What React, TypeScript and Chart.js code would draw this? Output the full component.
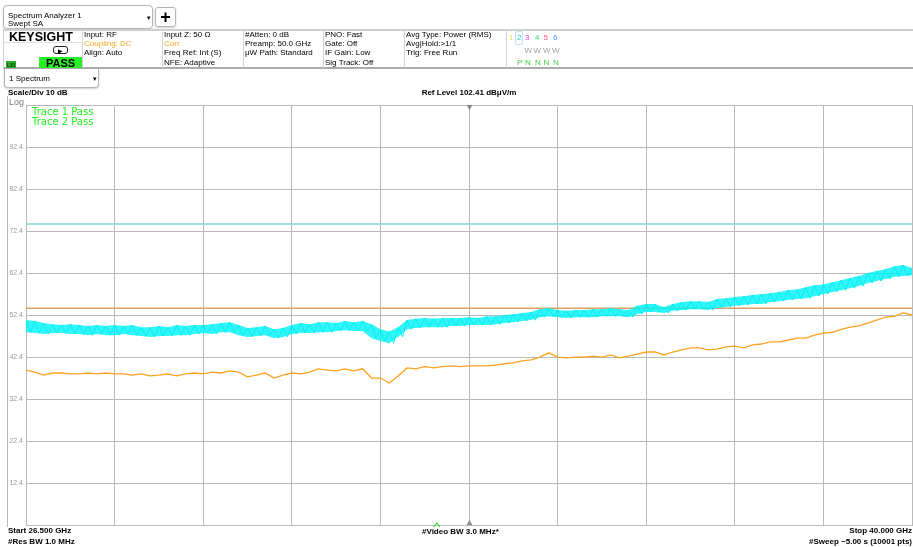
import React, { useEffect, useRef } from 'react';
import { Chart, registerables } from 'chart.js';
Chart.register(...registerables);

// ---------- data ----------
const START_GHZ = 26.5;
const STOP_GHZ = 40.0;
const CENTER_GHZ = 33.25;
const GREEN_MARK_GHZ = 32.76;
const REF_LEVEL = 102.41;
const BOTTOM_LEVEL = 2.41;

const X_GRID = [26.5, 27.85, 29.2, 30.55, 31.9, 33.25, 34.6, 35.95, 37.3, 38.65, 40.0];
const Y_GRID = [2.41, 12.41, 22.41, 32.41, 42.41, 52.41, 62.41, 72.41, 82.41, 92.41, 102.41];
const Y_LABELS = ['', '12.4', '22.4', '32.4', '42.4', '52.4', '62.4', '72.4', '82.4', '92.4', ''];

const LIMIT_1 = 74.1; // trace 1 limit line
const LIMIT_2 = 54.0; // trace 2 limit line

const FREQ_GHZ = [
  26.5, 26.635, 26.77, 26.905, 27.04, 27.175, 27.31, 27.445, 27.58, 27.715,
  27.85, 27.985, 28.12, 28.255, 28.39, 28.525, 28.66, 28.795, 28.93, 29.065,
  29.2, 29.335, 29.47, 29.605, 29.74, 29.875, 30.01, 30.145, 30.28, 30.415,
  30.55, 30.685, 30.82, 30.955, 31.09, 31.225, 31.36, 31.495, 31.63, 31.765,
  31.9, 32.035, 32.17, 32.305, 32.44, 32.575, 32.71, 32.845, 32.98, 33.115,
  33.25, 33.385, 33.52, 33.655, 33.79, 33.925, 34.06, 34.195, 34.33, 34.465,
  34.6, 34.735, 34.87, 35.005, 35.14, 35.275, 35.41, 35.545, 35.68, 35.815,
  35.95, 36.085, 36.22, 36.355, 36.49, 36.625, 36.76, 36.895, 37.03, 37.165,
  37.3, 37.435, 37.57, 37.705, 37.84, 37.975, 38.11, 38.245, 38.38, 38.515,
  38.65, 38.785, 38.92, 39.055, 39.19, 39.325, 39.46, 39.595, 39.73, 39.865,
  40.0,
];

// Trace 1 (cyan) noise envelope: upper and lower edge, dBuV/m
const CYAN_HIGH = [
  51.2, 51.0, 50.5, 50.2, 50.0, 50.2, 50.0, 49.8, 50.0, 49.8,
  50.0, 49.8, 50.0, 49.5, 49.5, 49.8, 49.5, 50.0, 49.8, 50.0,
  50.0, 50.2, 50.5, 50.7, 50.0, 49.3, 49.5, 49.8, 49.0, 49.3,
  50.0, 50.5, 50.2, 50.7, 50.7, 50.5, 51.0, 50.7, 51.0, 50.2,
  49.0, 48.5, 49.5, 51.2, 51.5, 51.7, 51.5, 51.7, 51.7, 51.7,
  51.9, 51.7, 52.1, 52.1, 52.4, 52.6, 52.9, 53.1, 53.8, 54.1,
  53.6, 53.4, 53.6, 53.6, 53.8, 53.8, 54.1, 53.8, 53.6, 54.6,
  55.0, 55.0, 54.3, 55.0, 55.5, 55.7, 55.7, 55.5, 56.2, 56.4,
  56.7, 56.9, 57.2, 57.4, 57.6, 57.9, 58.3, 58.5, 59.0, 59.5,
  59.7, 60.2, 60.7, 61.2, 61.7, 62.4, 62.9, 63.3, 64.0, 64.3,
  63.6,
];
const CYAN_LOW = [
  48.3, 48.1, 47.9, 48.1, 48.1, 47.9, 47.9, 47.6, 47.9, 47.6,
  47.6, 47.9, 47.6, 47.4, 47.2, 47.4, 47.4, 47.6, 47.6, 47.9,
  48.1, 47.9, 48.3, 48.3, 47.6, 47.2, 47.4, 47.6, 46.9, 47.2,
  47.9, 48.1, 48.1, 48.3, 48.3, 48.6, 48.8, 48.6, 48.6, 46.9,
  46.2, 45.7, 47.2, 49.0, 49.3, 49.5, 49.5, 49.5, 49.8, 49.8,
  50.0, 50.0, 50.0, 50.2, 50.5, 50.7, 51.0, 51.2, 51.9, 52.1,
  51.9, 51.7, 51.9, 51.9, 51.9, 52.1, 52.1, 52.1, 51.9, 52.6,
  53.1, 53.1, 52.9, 53.4, 53.6, 53.8, 53.8, 53.6, 54.1, 54.3,
  54.6, 54.8, 55.0, 55.0, 55.5, 55.7, 56.0, 56.2, 56.4, 56.9,
  57.4, 57.9, 58.3, 58.8, 59.3, 60.0, 60.5, 61.0, 61.5, 61.7,
  61.9,
];

// Trace 2 (orange)
const ORANGE = [
  39.3, 38.8, 38.1, 38.6, 38.6, 38.4, 38.4, 38.6, 38.4, 38.6,
  38.4, 38.4, 38.1, 38.4, 37.9, 38.1, 38.4, 37.9, 38.4, 38.6,
  38.4, 38.8, 38.6, 39.1, 38.8, 37.7, 38.1, 38.6, 37.4, 38.1,
  38.6, 38.4, 38.8, 39.6, 39.3, 39.1, 39.6, 39.1, 39.6, 37.4,
  37.4, 36.2, 37.9, 39.8, 39.6, 40.1, 39.8, 40.1, 40.3, 40.1,
  40.3, 40.3, 40.3, 40.5, 40.8, 41.0, 41.5, 41.7, 42.4, 43.4,
  42.4, 42.2, 42.4, 42.4, 42.6, 42.4, 42.9, 42.2, 42.6, 43.1,
  43.6, 43.6, 42.9, 43.6, 44.1, 44.6, 44.6, 44.1, 44.3, 44.8,
  45.0, 44.6, 45.3, 45.5, 46.0, 46.0, 46.4, 46.9, 46.9, 47.6,
  48.1, 48.3, 49.0, 49.5, 49.8, 50.5, 51.2, 51.9, 52.1, 52.9,
  52.4,
];

// ---------- styles ----------
const FONT = '"Liberation Sans", Arial, sans-serif';
const CYAN = '#00f0f4';
const CYAN_FILL = 'rgba(0, 242, 246, 0.8)';
const ORANGE_C = '#ffa21f';
const CYAN_LIMIT = '#8ad6d6';
const ORANGE_LIMIT = '#dca064';
const GRID = '#b9b9b9';

const markerPlugin = {
  id: 'saMarkers',
  afterDraw(chart: any) {
    const { ctx, chartArea, scales } = chart;
    const cx = Math.round(scales.x.getPixelForValue(CENTER_GHZ)) + 0.5;
    ctx.save();
    ctx.fillStyle = '#8a8a8a';
    ctx.beginPath();
    ctx.moveTo(cx - 3, chartArea.top);
    ctx.lineTo(cx + 3, chartArea.top);
    ctx.lineTo(cx, chartArea.top + 5);
    ctx.closePath();
    ctx.fill();
    ctx.beginPath();
    ctx.moveTo(cx - 3, chartArea.bottom);
    ctx.lineTo(cx + 3, chartArea.bottom);
    ctx.lineTo(cx, chartArea.bottom - 5);
    ctx.closePath();
    ctx.fill();
    const gx = scales.x.getPixelForValue(GREEN_MARK_GHZ);
    ctx.strokeStyle = '#3ddc3d';
    ctx.lineWidth = 1.2;
    ctx.beginPath();
    ctx.moveTo(gx - 3, chartArea.bottom + 2);
    ctx.lineTo(gx, chartArea.bottom - 2);
    ctx.lineTo(gx + 3, chartArea.bottom + 2);
    ctx.stroke();
    ctx.restore();
  },
};

function T(props: { x: number; y: number; size?: number; color?: string; bold?: boolean; right?: boolean; center?: boolean; family?: string; children: any }) {
  const size = props.size ?? 8;
  const style: any = {
    position: 'absolute',
    top: props.y - size / 2 + 0.8,
    fontSize: size,
    lineHeight: size + 'px',
    whiteSpace: 'nowrap',
    color: props.color ?? '#000',
    fontWeight: props.bold ? 'bold' : 'normal',
    fontFamily: props.family ?? FONT,
  };
  if (props.right) {
    style.right = 913 - props.x;
  } else if (props.center) {
    style.left = props.x;
    style.transform = 'translateX(-50%)';
  } else {
    style.left = props.x;
  }
  return <span style={style}>{props.children}</span>;
}

function Box(props: { x: number; y: number; w: number; h: number; style?: any; children?: any }) {
  return (
    <div style={{ position: 'absolute', left: props.x, top: props.y, width: props.w, height: props.h, boxSizing: 'border-box', ...props.style }}>
      {props.children}
    </div>
  );
}

export default function App() {
  const ref = useRef<HTMLCanvasElement>(null);

  useEffect(() => {
    if (!ref.current) return;
    const pts = (arr: number[]) => FREQ_GHZ.map((f, i) => ({ x: f, y: arr[i] }));
    // trace 1 drawn as its noise: alternating between the upper and lower envelope readings
    const noisy: { x: number; y: number }[] = [];
    FREQ_GHZ.forEach((f, i) => {
      noisy.push({ x: f, y: CYAN_HIGH[i] });
      if (i < FREQ_GHZ.length - 1) noisy.push({ x: (f + FREQ_GHZ[i + 1]) / 2, y: CYAN_LOW[i] });
    });
    const chart = new Chart(ref.current, {
      type: 'line',
      data: {
        datasets: [
          {
            label: 'Trace 1',
            data: noisy,
            borderColor: CYAN,
            borderWidth: 1,
            pointRadius: 0,
            fill: false,
            order: 0,
          },
          {
            label: 'Trace 1 high',
            data: pts(CYAN_HIGH),
            borderColor: 'rgba(0,0,0,0)',
            backgroundColor: CYAN_FILL,
            borderWidth: 0,
            pointRadius: 0,
            fill: '+1',
            order: 1,
          },
          {
            label: 'Trace 1 low',
            data: pts(CYAN_LOW),
            borderColor: 'rgba(0,0,0,0)',
            borderWidth: 0,
            pointRadius: 0,
            fill: false,
            order: 1,
          },
          {
            label: 'Trace 2',
            data: pts(ORANGE),
            borderColor: ORANGE_C,
            borderWidth: 1.3,
            pointRadius: 0,
            fill: false,
            order: 2,
          },
          {
            label: 'Limit 1',
            data: [{ x: START_GHZ, y: LIMIT_1 }, { x: STOP_GHZ, y: LIMIT_1 }],
            borderColor: CYAN_LIMIT,
            borderWidth: 1.5,
            pointRadius: 0,
            fill: false,
            order: 3,
          },
          {
            label: 'Limit 2',
            data: [{ x: START_GHZ, y: LIMIT_2 }, { x: STOP_GHZ, y: LIMIT_2 }],
            borderColor: ORANGE_LIMIT,
            borderWidth: 1.5,
            pointRadius: 0,
            fill: false,
            order: 3,
          },
        ],
      },
      options: {
        animation: false,
        responsive: false,
        maintainAspectRatio: false,
        layout: { padding: { left: 0, top: 105, right: 1, bottom: 22 } },
        plugins: { legend: { display: false }, tooltip: { enabled: false } },
        scales: {
          x: {
            type: 'linear',
            min: START_GHZ,
            max: STOP_GHZ,
            afterBuildTicks: (s: any) => {
              s.ticks = X_GRID.map((v) => ({ value: v }));
            },
            afterFit: (s: any) => {
              s.height = 0;
            },
            ticks: { display: false },
            grid: { color: GRID, lineWidth: 1, drawTicks: false },
            border: { color: GRID, width: 1 },
          },
          y: {
            type: 'linear',
            min: BOTTOM_LEVEL,
            max: REF_LEVEL,
            afterBuildTicks: (s: any) => {
              s.ticks = Y_GRID.map((v) => ({ value: v }));
            },
            afterFit: (s: any) => {
              s.width = 26;
            },
            ticks: {
              padding: 3,
              color: '#9a9a9a',
              font: { family: FONT, size: 7 },
              callback: (_v: any, i: number) => Y_LABELS[i],
            },
            grid: { color: GRID, lineWidth: 1, drawTicks: false },
            border: { color: GRID, width: 1 },
          },
        },
      },
      plugins: [markerPlugin],
    } as any);
    return () => chart.destroy();
  }, []);

  return (
    <div style={{ position: 'fixed', left: 0, top: 0, width: 913, height: 547, background: '#fff', overflow: 'hidden', fontFamily: FONT }}>
      <canvas ref={ref} width={913} height={547} style={{ position: 'absolute', left: 0, top: 0, width: 913, height: 547 }} />

      {/* Title box */}
      <Box x={3} y={5} w={150} h={24} style={{ border: '1px solid #b4b4b4', borderRadius: 4, boxShadow: '0 1px 2px rgba(0,0,0,0.2)' }} />
      <T x={8} y={15} size={8}>Spectrum Analyzer 1</T>
      <T x={8} y={23} size={8}>Swept SA</T>
      <T x={147} y={17} size={7}>▾</T>
      <Box x={155} y={7} w={21} h={20} style={{ border: '1px solid #b4b4b4', borderRadius: 3, boxShadow: '0 1px 2px rgba(0,0,0,0.2)' }} />
      <T x={165.5} y={16.5} size={18} bold center>+</T>

      {/* info bar */}
      <Box x={3} y={29} w={910} h={2} style={{ background: '#cfcfcf' }} />
      <Box x={3} y={67} w={910} h={2} style={{ background: '#ababab' }} />
      <Box x={3} y={30} w={1} h={38} style={{ background: '#d0d0d0' }} />
      {[82, 162, 243, 323, 404, 506].map((x) => (
        <Box key={x} x={x} y={30} w={1} h={38} style={{ background: '#d4d4d4' }} />
      ))}
      <Box x={4} y={42} w={78} h={1} style={{ background: '#e0e0e0' }} />
      <T x={9} y={36} size={12.5} bold>KEYSIGHT</T>
      <Box x={53} y={46} w={15} h={8} style={{ border: '1.3px solid #222', borderRadius: 3 }} />
      <T x={58} y={50} size={6}>▶</T>
      <Box x={6} y={61} w={10} h={7} style={{ background: '#2fa82f' }} />
      <T x={7} y={64.5} size={5} color="#0a3d0a" bold>LXI</T>
      <Box x={39} y={57} w={43} h={11} style={{ background: '#28f028' }} />
      <T x={60.5} y={62.5} size={11} bold center>PASS</T>

      <T x={84} y={34} size={8}>Input: RF</T>
      <T x={84} y={43.3} size={8} color="#f5a623">Coupling: DC</T>
      <T x={84} y={52.6} size={8}>Align: Auto</T>

      <T x={164} y={34} size={8}>Input Z: 50 Ω</T>
      <T x={164} y={43.3} size={8} color="#f5a623">Corr</T>
      <T x={164} y={52.6} size={8}>Freq Ref: Int (S)</T>
      <T x={164} y={61.9} size={8}>NFE: Adaptive</T>

      <T x={245} y={34} size={8}>#Atten: 0 dB</T>
      <T x={245} y={43.3} size={8}>Preamp: 50.0 GHz</T>
      <T x={245} y={52.6} size={8}>μW Path: Standard</T>

      <T x={325} y={34} size={8}>PNO: Fast</T>
      <T x={325} y={43.3} size={8}>Gate: Off</T>
      <T x={325} y={52.6} size={8}>IF Gain: Low</T>
      <T x={325} y={61.9} size={8}>Sig Track: Off</T>

      <T x={406} y={34} size={8}>Avg Type: Power (RMS)</T>
      <T x={406} y={43.3} size={8}>Avg|Hold:&gt;1/1</T>
      <T x={406} y={52.6} size={8}>Trig: Free Run</T>

      <Box x={515} y={31} w={8} h={14} style={{ border: '1px solid #bfe4ee', borderRadius: 2 }} />
      <T x={509} y={37.5} size={8} color="#e6e64a">1</T>
      <T x={517} y={37.5} size={8} color="#1ec8e6">2</T>
      <T x={525} y={37.5} size={8} color="#ee44ee">3</T>
      <T x={535} y={37.5} size={8} color="#3fd877">4</T>
      <T x={543.5} y={37.5} size={8} color="#ff5577">5</T>
      <T x={553} y={37.5} size={8} color="#4a96ff">6</T>
      {[524.5, 533.5, 543, 552].map((x) => (
        <T key={'w' + x} x={x} y={50} size={8} color="#a0a0a0">W</T>
      ))}
      <T x={517} y={62} size={8} color="#44c844">P</T>
      {[525, 535, 543.5, 553].map((x) => (
        <T key={'n' + x} x={x} y={62} size={8} color="#44c844">N</T>
      ))}

      {/* view selector */}
      <Box x={4} y={69} w={95} h={19} style={{ border: '1px solid #b4b4b4', borderTop: 'none', borderRadius: '0 0 4px 4px', boxShadow: '0 1px 2px rgba(0,0,0,0.2)' }} />
      <T x={9} y={78.5} size={8}>1 Spectrum</T>
      <T x={93} y={77.5} size={7}>▾</T>

      {/* plot annotations */}
      <Box x={7} y={96} w={1} h={431} style={{ background: '#b8b8b8' }} />
      <T x={8} y={92.5} size={8} bold>Scale/Div 10 dB</T>
      <T x={469} y={92.5} size={8} bold center>Ref Level 102.41 dBμV/m</T>
      <T x={9} y={101.5} size={9} color="#7a7a7a">Log</T>
      <T x={32} y={111} size={10} color="#22ee22" family='"DejaVu Sans", sans-serif'>Trace 1 Pass</T>
      <T x={32} y={121} size={10} color="#22ee22" family='"DejaVu Sans", sans-serif'>Trace 2 Pass</T>

      <T x={8} y={530.5} size={8} bold>Start 26.500 GHz</T>
      <T x={8} y={541} size={8} bold>#Res BW 1.0 MHz</T>
      <T x={422} y={531} size={8} bold>#Video BW 3.0 MHz*</T>
      <T x={912} y={530.5} size={8} bold right>Stop 40.000 GHz</T>
      <T x={912} y={541} size={8} bold right>#Sweep ~5.00 s (10001 pts)</T>
    </div>
  );
}
